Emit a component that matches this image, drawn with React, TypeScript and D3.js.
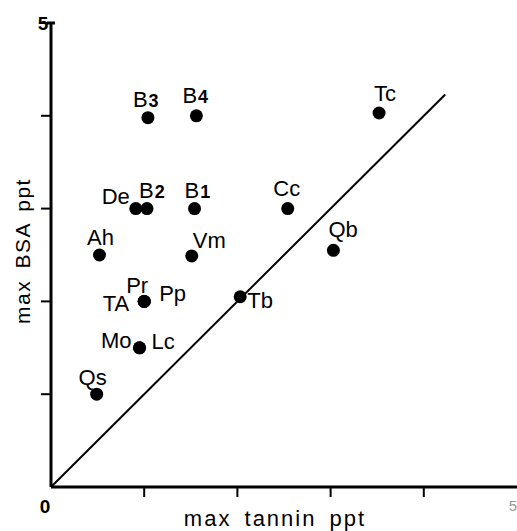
import { useEffect, useRef } from "react";
import * as d3 from "d3";

// species codes and their maxima (ppt)
const names = ["Qs", "Mo", "Lc", "TA", "Pr", "Pp", "Ah", "Vm", "De", "B2", "B1", "B3", "B4", "Cc", "Qb", "Tc", "Tb"];
const tannin = [0.49, 0.95, 0.95, 1.0, 1.0, 1.0, 0.52, 1.51, 0.91, 1.03, 1.54, 1.04, 1.56, 2.54, 3.03, 3.52, 2.03];
const bsa = [1.0, 1.5, 1.5, 2.0, 2.0, 2.0, 2.5, 2.49, 3.0, 3.0, 3.0, 3.98, 4.0, 3.0, 2.55, 4.03, 2.05];

const xTicks = [0, 1, 2, 3, 4, 5];
const yTicks = [0, 1, 2, 3, 4, 5];
const tickLabels = ["0", "5"];
const lineEnd = 4.23; // 1:1 line stops here

// label placement around each dot: [dx, dy, anchor]
const labelPos: Record<string, [number, number, string]> = {
  Qs: [-4, -9, "middle"],
  Mo: [-8, 0, "end"],
  Lc: [12, 1, "start"],
  TA: [-15, 10, "end"],
  Pr: [-18, -8, "start"],
  Pp: [15, 0, "start"],
  Ah: [1, -10, "middle"],
  Vm: [1, -8, "start"],
  De: [-6, -5, "end"],
  B2: [-8, -11, "start"],
  B1: [-10, -11, "start"],
  B3: [-15, -11, "start"],
  B4: [-14, -13, "start"],
  Cc: [-1, -13, "middle"],
  Qb: [-5, -13, "start"],
  Tc: [-5, -12, "start"],
  Tb: [7, 11, "start"],
};

const W = 517;
const H = 531;

const App = () => {
  const svgRef = useRef<SVGSVGElement>(null);

  useEffect(() => {
    const svg = d3.select(svgRef.current);
    svg.selectAll("*").remove();

    const x = d3.scaleLinear().domain([0, 5]).range([51, 517]);
    const y = d3.scaleLinear().domain([0, 5]).range([487, 23]);
    const font = "'Liberation Sans', Arial, sans-serif";

    // axes
    svg.append("line")
      .attr("x1", x(0)).attr("x2", x(5))
      .attr("y1", y(0)).attr("y2", y(0))
      .attr("stroke", "#000").attr("stroke-width", 3);
    svg.append("line")
      .attr("x1", x(0)).attr("x2", x(0))
      .attr("y1", y(0)).attr("y2", y(5))
      .attr("stroke", "#000").attr("stroke-width", 3);

    svg.selectAll(".xt")
      .data(xTicks.slice(1, 5))
      .join("line")
      .attr("x1", (d) => x(d)).attr("x2", (d) => x(d))
      .attr("y1", y(0)).attr("y2", y(0) + 10)
      .attr("stroke", "#000").attr("stroke-width", 2);

    svg.selectAll(".yt")
      .data(yTicks.slice(1))
      .join("line")
      .attr("x1", x(0) - 10).attr("x2", x(0))
      .attr("y1", (d) => y(d)).attr("y2", (d) => y(d))
      .attr("stroke", "#000").attr("stroke-width", 2);
    // small cap at the top of the y axis
    svg.append("line")
      .attr("x1", x(0) - 4).attr("x2", x(0) + 4)
      .attr("y1", y(5)).attr("y2", y(5))
      .attr("stroke", "#000").attr("stroke-width", 3);

    const tl = svg.append("g")
      .attr("font-family", font)
      .attr("font-weight", "bold")
      .attr("font-size", 19);
    tl.append("text").attr("x", x(0) - 6).attr("y", y(0) + 26)
      .attr("text-anchor", "middle").text(tickLabels[0]);
    tl.append("text").attr("x", x(0) - 8).attr("y", y(5) + 7)
      .attr("text-anchor", "middle").text(tickLabels[1]);
    tl.append("text").attr("x", x(5)).attr("y", y(0) + 24)
      .attr("text-anchor", "end").attr("font-weight", "normal")
      .attr("font-size", 15)
      .attr("fill", "#999").text(tickLabels[1]);

    // axis titles
    svg.append("text")
      .attr("x", 275).attr("y", 526)
      .attr("text-anchor", "middle")
      .attr("font-family", font).attr("font-size", 22)
      .attr("letter-spacing", 2).attr("word-spacing", 5)
      .text("max tannin ppt");
    svg.append("text")
      .attr("transform", `translate(30,${251}) rotate(-90)`)
      .attr("text-anchor", "middle")
      .attr("font-family", font).attr("font-size", 21)
      .attr("letter-spacing", 1.5).attr("word-spacing", 4)
      .text("max BSA ppt");

    // 1:1 line
    svg.append("line")
      .attr("x1", x(0)).attr("y1", y(0))
      .attr("x2", x(lineEnd)).attr("y2", y(lineEnd))
      .attr("stroke", "#000").attr("stroke-width", 2);

    const pts = names.map((n, i) => ({ n, tx: tannin[i], b: bsa[i] }));

    svg.selectAll(".dot")
      .data(pts)
      .join("circle")
      .attr("cx", (d) => x(d.tx))
      .attr("cy", (d) => y(d.b))
      .attr("r", 6.5)
      .attr("fill", "#000");

    const lbl = svg.selectAll(".lbl")
      .data(pts)
      .join("text")
      .attr("x", (d) => x(d.tx) + labelPos[d.n][0])
      .attr("y", (d) => y(d.b) + labelPos[d.n][1])
      .attr("text-anchor", (d) => labelPos[d.n][2])
      .attr("font-family", font)
      .attr("font-size", 22);

    lbl.each(function (d) {
      const t = d3.select(this);
      if (d.n.startsWith("B")) {
        t.append("tspan").text("B");
        t.append("tspan")
          .attr("font-size", 18)
          .attr("font-weight", "bold")
          .attr("dx", 1)
          .text(d.n.slice(1));
      } else {
        t.text(d.n);
      }
    });
  }, []);

  return (
    <svg
      ref={svgRef}
      width={W}
      height={H}
      style={{ position: "fixed", left: 0, top: 0, background: "#fff" }}
    />
  );
};

export default App;
